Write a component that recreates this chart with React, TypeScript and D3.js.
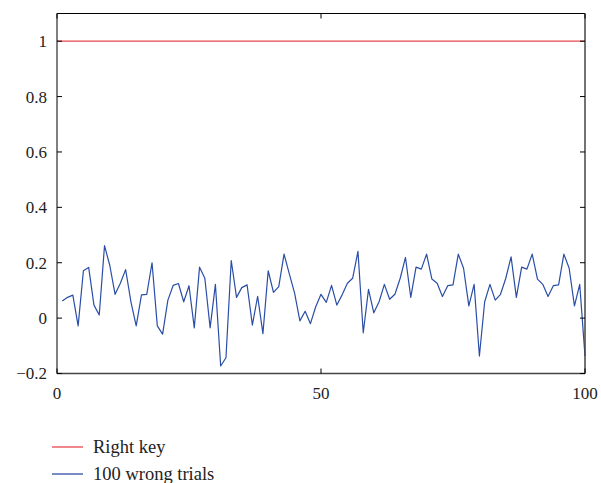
import React from "react";
import * as d3 from "d3";

const trials: number[] = Array.from({ length: 100 }, (_, i) => i + 1);
const wrongValues: number[] = [
  0.062, 0.075, 0.083, -0.028, 0.171, 0.183, 0.047, 0.011, 0.262, 0.19,
  0.086, 0.126, 0.175, 0.059, -0.028, 0.084, 0.086, 0.2, -0.028, -0.058,
  0.065, 0.118, 0.125, 0.059, 0.117, -0.035, 0.184, 0.144, -0.035, 0.122,
  -0.173, -0.143, 0.208, 0.075, 0.11, 0.12, -0.025, 0.079, -0.056, 0.171,
  0.093, 0.114, 0.231, 0.16, 0.09, -0.01, 0.025, -0.02, 0.041, 0.086,
  0.057, 0.118, 0.047, 0.084, 0.126, 0.144, 0.241, -0.053, 0.104, 0.019,
  0.059, 0.122, 0.068, 0.086, 0.144, 0.219, 0.075, 0.184, 0.177, 0.231,
  0.141, 0.126, 0.078, 0.117, 0.12, 0.231, 0.18, 0.044, 0.122, -0.137,
  0.059, 0.122, 0.065, 0.086, 0.144, 0.221, 0.075, 0.184, 0.177, 0.231,
  0.141, 0.122, 0.078, 0.117, 0.12, 0.231, 0.18, 0.044, 0.122, -0.137,
];
const rightKeyValue = 1;
const xTicks: number[] = [0, 50, 100];
const yTicks: number[] = [-0.2, 0, 0.2, 0.4, 0.6, 0.8, 1];
const legendLabels: string[] = ["Right key", "100 wrong trials"];

const RED = "#e8474c";
const BLUE = "#2a4ea6";
const FONT = "'Liberation Serif', 'DejaVu Serif', serif";

export default function App() {
  const W = 601;
  const H = 483;
  const left = 57;
  const right = 585;
  const top = 13.5;
  const bottom = 373.5;
  const x = d3.scaleLinear().domain([0, 100]).range([left, right]);
  const y = d3.scaleLinear().domain([-0.2, 1.1]).range([bottom, top]);

  const line = d3
    .line<number>()
    .x((_, i) => x(trials[i]))
    .y((d) => y(d));

  const fmtY = (v: number) => {
    if (Math.abs(v) < 1e-9) return "0";
    const s = d3.format("~g")(Math.round(v * 10) / 10);
    return s.replace("-", "\u2212");
  };

  const tickLen = 5;

  return (
    <svg
      width={W}
      height={H}
      style={{ position: "absolute", left: 0, top: 0 }}
      fontFamily={FONT}
    >
      <rect x={0} y={0} width={W} height={H} fill="#fff" />
      <line
        x1={x(0)}
        x2={x(100)}
        y1={y(rightKeyValue)}
        y2={y(rightKeyValue)}
        stroke={RED}
        strokeWidth={1.3}
      />
      <path d={line(wrongValues) || ""} fill="none" stroke={BLUE} strokeWidth={1.2} strokeLinejoin="round" />

      <line x1={left} x2={right} y1={top} y2={top} stroke="#000" strokeWidth={1} />
      <line x1={left} x2={left} y1={top} y2={bottom} stroke="#000" strokeWidth={1} />
      <line x1={left} x2={right} y1={bottom} y2={bottom} stroke="#444" strokeWidth={1.5} />
      <line x1={right} x2={right} y1={top} y2={bottom} stroke="#444" strokeWidth={1.5} />

      {yTicks.map((t) => (
        <g key={"y" + t}>
          <line x1={left} x2={left + tickLen} y1={y(t)} y2={y(t)} stroke="#000" />
          <line x1={right} x2={right - tickLen} y1={y(t)} y2={y(t)} stroke="#000" />
          <text
            x={left - 10}
            y={y(t)}
            dy="0.35em"
            textAnchor="end"
            fontSize={17}
            fill="#222"
          >
            {fmtY(t)}
          </text>
        </g>
      ))}
      {xTicks.map((t) => (
        <g key={"x" + t}>
          <line x1={x(t)} x2={x(t)} y1={bottom} y2={bottom - tickLen} stroke="#000" />
          <line x1={x(t)} x2={x(t)} y1={top} y2={top + tickLen} stroke="#000" />
          <text x={x(t)} y={399} textAnchor="middle" fontSize={17} fill="#222">
            {t}
          </text>
        </g>
      ))}

      {legendLabels.map((lab, i) => {
        const ly = 447 + i * 27;
        return (
          <g key={lab}>
            <line x1={52} x2={83} y1={ly} y2={ly} stroke={i === 0 ? RED : BLUE} strokeWidth={1.3} />
            <text x={93} y={ly} dy="0.32em" fontSize={18.5} fill="#222">
              {lab}
            </text>
          </g>
        );
      })}
    </svg>
  );
}
